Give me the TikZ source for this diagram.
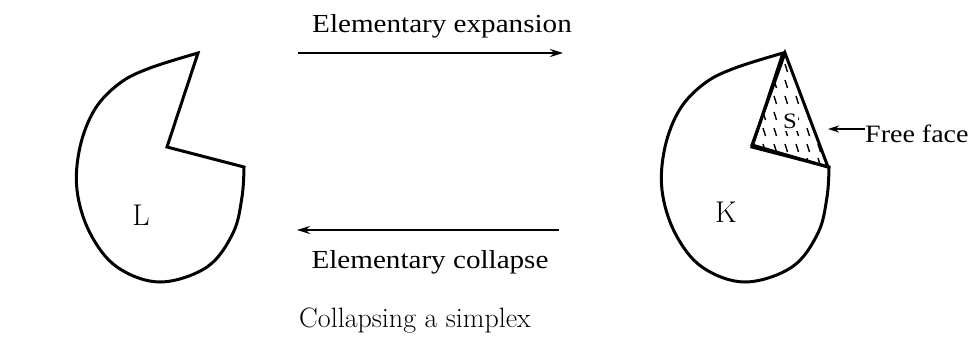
\documentclass[tikz,border=0pt]{standalone}
\usepackage{fontspec}
\usetikzlibrary{arrows.meta}
\newfontfamily\tmfont[FakeStretch=1.12]{Liberation Serif}
\newfontfamily\lmfont{Latin Modern Roman}
\begin{document}
\begin{tikzpicture}[x=1pt,y=-1pt,
  outline/.style={line width=3pt,line join=miter,line cap=round},
  maparrow/.style={line width=2.8pt,-{Stealth[length=13pt,width=8pt]}},
  tmlabel/.style={font=\tmfont\fontsize{26}{30}\selectfont,inner sep=0pt,anchor=base},
  lmlabel/.style={font=\lmfont\fontsize{28}{32}\selectfont,inner sep=0pt,anchor=base},
  cxlabel/.style={font=\lmfont\fontsize{30}{34}\selectfont,inner sep=0pt,anchor=base}]
\useasboundingbox (0,0) rectangle (974,338);
% complex L
\draw[outline] plot[smooth,tension=0.6] coordinates {(244,167) (242,197) (233,233) (207,267) (160,282) (117,267) (90,233) (77,190) (80,147) (95,109) (120,83) (150,68) (198,53)} -- (167,147) -- cycle;
\node[cxlabel] (L) at (141,225) {L};
% complex K
\begin{scope}[xshift=585pt]
\draw[outline] plot[smooth,tension=0.6] coordinates {(244,167) (242,197) (233,233) (207,267) (160,282) (117,267) (90,233) (77,190) (80,147) (95,109) (120,83) (150,68) (198,53)} -- (167,147) -- cycle;
\end{scope}
\node[cxlabel] (K) at (726,222) {K};
% simplex s with hatching
\coordinate (ta) at (785,53);
\coordinate (tb) at (752,145);
\coordinate (tc) at (828,167);
\begin{scope}
\clip (ta) -- (tb) -- (tc) -- cycle;
\foreach \yy in {64,80,96,112,128,144,158} {
  \foreach \xx in {740,751,...,830} {
    \draw[line width=1.4pt] (\xx+1,\yy) -- (\xx+3.5,\yy+8);
  }
}
\end{scope}
\fill[white] (782,108) rectangle (798,131);
\draw[outline] (ta) -- (tb) -- (tc) -- cycle;
\node[font=\tmfont\fontsize{22}{24}\selectfont,inner sep=0pt,anchor=base] (S) at (790,128) {S};
% free face
\node[tmlabel,anchor=base west,font=\tmfont\fontsize{25}{30}\selectfont] (ff) at (865,142) {Free face};
\coordinate (ffe) at (828,129);
\draw[line width=2.6pt,-{Stealth[length=11pt,width=7pt]}] (ff.west |- ffe) -- (ffe);
% arrows
\coordinate (e1) at (298,53);
\coordinate (e2) at (563,53);
\coordinate (c1) at (559,230);
\coordinate (c2) at (297,230);
\draw[maparrow] (e1) -- (e2);
\draw[maparrow] (c1) -- (c2);
\node[tmlabel] (exp) at (442,32) {Elementary expansion};
\node[tmlabel] (col) at (430,268) {Elementary collapse};
\node[lmlabel] (cap) at (415,327) {Collapsing a simplex};
\end{tikzpicture}
\end{document}
